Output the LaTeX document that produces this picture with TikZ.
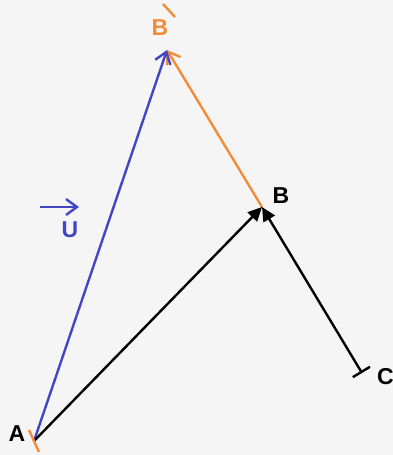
\documentclass[tikz,border=0pt]{standalone}
\usepackage{fontspec}
\setmainfont{Liberation Sans}
\usetikzlibrary{arrows.meta}
\definecolor{bg}{HTML}{F5F5F5}
\definecolor{vblue}{HTML}{4346C4}
\definecolor{vorange}{HTML}{F28C38}
\begin{document}
\begin{tikzpicture}[x=1pt,y=-1pt,
  vec/.style={line width=2.4pt},
  lbl/.style={font=\fontsize{23}{27}\selectfont\bfseries, inner sep=0pt},
  blk/.style={vec, black, -{Triangle[length=14pt,width=13pt]}},
  opn/.style={-{Straight Barb[length=11pt,width=16pt,line width=2.4pt]}},
  tick/.style={line width=2.4pt, vorange}]
\fill[bg] (0,0) rectangle (393,455);
\useasboundingbox (0,0) rectangle (393,455);
\coordinate (A) at (34,441);
\coordinate (B) at (262,207);
\coordinate (Bp) at (167,50);
\coordinate (C) at (362,373);
\coordinate (ua) at (40,207);
\coordinate (ub) at (79,207);
\coordinate (pa) at (163,4);
\coordinate (pb) at (175,17);
\coordinate (ta) at (29,430);
\coordinate (tb) at (39,452);
% vectors
\draw[vec, vorange, opn] (B) -- (Bp);
\draw[vec, vblue, opn] (A) -- (Bp);
\draw[blk] (A) -- (B);
\draw[blk, {Bar[width=20pt,line width=2.4pt]}-{Triangle[length=14pt,width=13pt]}] (C) -- (B);
% ticks
\draw[tick] (ta) -- (tb);
\draw[tick] (pa) -- (pb);
% labels
\node[lbl] (la) at (17,434) {A};
\node[lbl] (lb) at (281,196) {B};
\node[lbl, anchor=west] (lc) at (377,377) {C};
\node[lbl, vorange] (lbp) at (160,28) {B};
\node[lbl, vblue] (lu) at (70,230) {U};
\draw[vec, vblue, opn] (ua) -- (ub);
\end{tikzpicture}
\end{document}
